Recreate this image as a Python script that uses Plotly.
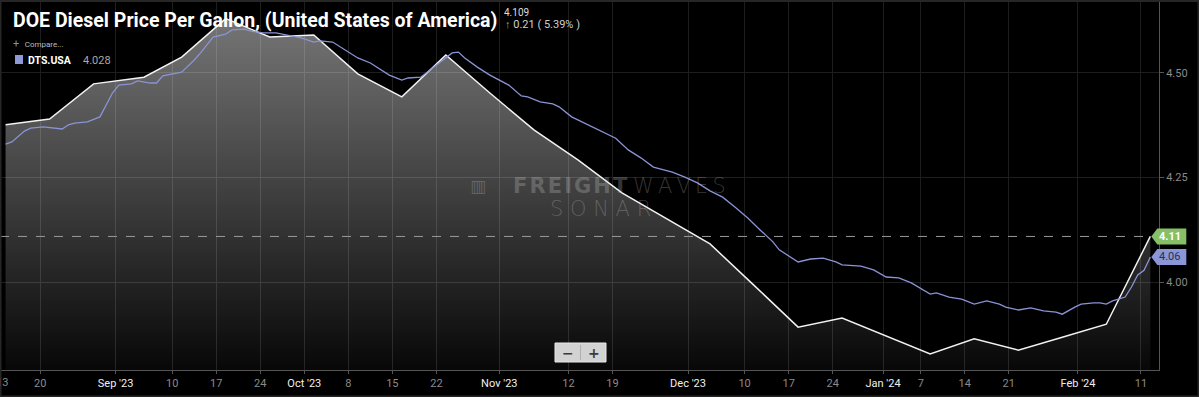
import plotly.graph_objects as go
import pandas as pd

# ---------------- data ----------------
doe_dates = ["2023-08-14", "2023-08-21", "2023-08-28", "2023-09-05", "2023-09-11", "2023-09-18",
             "2023-09-25", "2023-10-02", "2023-10-09", "2023-10-16", "2023-10-23", "2023-10-30",
             "2023-11-06", "2023-11-13", "2023-11-20", "2023-11-27", "2023-12-04", "2023-12-11",
             "2023-12-18", "2023-12-25", "2024-01-01", "2024-01-08", "2024-01-15", "2024-01-22",
             "2024-01-29", "2024-02-05", "2024-02-12"]
doe_values = [4.376, 4.390, 4.474, 4.490, 4.538, 4.630, 4.586, 4.591, 4.498, 4.443, 4.543, 4.452,
              4.364, 4.292, 4.213, 4.153, 4.091, 3.992, 3.892, 3.914, 3.871, 3.828, 3.864, 3.837,
              3.868, 3.899, 4.109]

dts_dates = ["2023-08-14", "2023-08-15", "2023-08-17", "2023-08-18", "2023-08-20", "2023-08-22",
             "2023-08-23", "2023-08-24", "2023-08-25", "2023-08-27", "2023-08-29", "2023-08-31",
             "2023-09-01", "2023-09-03", "2023-09-04", "2023-09-06", "2023-09-07", "2023-09-08",
             "2023-09-10", "2023-09-11", "2023-09-13", "2023-09-14", "2023-09-16", "2023-09-18",
             "2023-09-19", "2023-09-21", "2023-09-22", "2023-09-24", "2023-09-26", "2023-09-27",
             "2023-09-29", "2023-09-30", "2023-10-02", "2023-10-03", "2023-10-05", "2023-10-07",
             "2023-10-09", "2023-10-11", "2023-10-14", "2023-10-16", "2023-10-17", "2023-10-19",
             "2023-10-21", "2023-10-23", "2023-10-24", "2023-10-25", "2023-10-26", "2023-10-28",
             "2023-10-30", "2023-11-02", "2023-11-04", "2023-11-05", "2023-11-07", "2023-11-09",
             "2023-11-10", "2023-11-12", "2023-11-14", "2023-11-15", "2023-11-19", "2023-11-21",
             "2023-11-23", "2023-11-25", "2023-11-27", "2023-11-28", "2023-11-30", "2023-12-02",
             "2023-12-04", "2023-12-06", "2023-12-08", "2023-12-10", "2023-12-12", "2023-12-14",
             "2023-12-15", "2023-12-18", "2023-12-20", "2023-12-22", "2023-12-24", "2023-12-25",
             "2023-12-28", "2023-12-30", "2024-01-01", "2024-01-03", "2024-01-05", "2024-01-08",
             "2024-01-09", "2024-01-11", "2024-01-13", "2024-01-15", "2024-01-17", "2024-01-19",
             "2024-01-20", "2024-01-22", "2024-01-24", "2024-01-26", "2024-01-28", "2024-01-29",
             "2024-01-31", "2024-02-01", "2024-02-03", "2024-02-04", "2024-02-05", "2024-02-06",
             "2024-02-08", "2024-02-09", "2024-02-10", "2024-02-11", "2024-02-12"]
dts_values = [4.330, 4.335, 4.361, 4.368, 4.371, 4.368,
              4.366, 4.376, 4.380, 4.383, 4.395, 4.452,
              4.471, 4.474, 4.481, 4.476, 4.476, 4.493,
              4.500, 4.502, 4.531, 4.548, 4.586, 4.593,
              4.603, 4.605, 4.600, 4.596, 4.596, 4.593,
              4.586, 4.584, 4.574, 4.577, 4.574, 4.555,
              4.536, 4.524, 4.495, 4.483, 4.488, 4.490,
              4.514, 4.536, 4.548, 4.550, 4.536, 4.514,
              4.495, 4.471, 4.445, 4.443, 4.431, 4.426,
              4.419, 4.395, 4.380, 4.373, 4.344, 4.316,
              4.297, 4.275, 4.266, 4.263, 4.251, 4.237,
              4.218, 4.203, 4.179, 4.153, 4.124, 4.096,
              4.077, 4.048, 4.055, 4.057, 4.048, 4.041,
              4.038, 4.029, 4.012, 4.010, 3.998, 3.971,
              3.974, 3.964, 3.959, 3.947, 3.955, 3.947,
              3.940, 3.933, 3.938, 3.931, 3.928, 3.923,
              3.940, 3.947, 3.950, 3.950, 3.947, 3.955,
              3.964, 3.988, 4.017, 4.028, 4.060]

tick_dates = ["2023-08-20", "2023-09-01", "2023-09-10", "2023-09-17", "2023-09-24", "2023-10-01",
              "2023-10-08", "2023-10-15", "2023-10-22", "2023-11-01", "2023-11-12", "2023-11-19",
              "2023-12-01", "2023-12-10", "2023-12-17", "2023-12-24", "2024-01-01", "2024-01-07",
              "2024-01-14", "2024-01-21", "2024-02-01", "2024-02-11"]
tick_labels = ["20", "Sep '23", "10", "17", "24", "Oct '23", "8", "15", "22", "Nov '23", "12", "19",
               "Dec '23", "10", "17", "24", "Jan '24", "7", "14", "21", "Feb '24", "11"]
first_tick_date = "2023-08-13"
first_tick_label = "13"
y_ticks = [4.00, 4.25, 4.50]

title_text = "DOE Diesel Price Per Gallon, (United States of America)"
last_value_text = "4.109"
change_text = "0.21 ( 5.39% )"
series_name = "DTS.USA"
series_value_text = "4.028"

# ---------------- layout helpers ----------------
W, H = 1199, 397
ML, MR, MT, MB = 0, 40, 0, 27
PW, PH = W - ML - MR, H - MT - MB
x_range = [pd.Timestamp("2023-08-13 14:50"), pd.Timestamp("2024-02-13 21:05")]
y_range = [3.7895, 4.6746]


def pxx(x):  # pixel x -> paper
    return (x - ML) / PW


def pxy(y):  # pixel y -> paper
    return (H - MB - y) / PH


def date_frac(d):
    d = pd.Timestamp(d)
    return (d - x_range[0]) / (x_range[1] - x_range[0])


def val_frac(v):
    return (v - y_range[0]) / (y_range[1] - y_range[0])


half_day = pd.Timedelta(hours=12)
doe_x = pd.to_datetime(doe_dates) + half_day
dts_x = pd.to_datetime(dts_dates) + half_day

WHITE = "#f2f2f2"
PURPLE = "#8a93d6"
GREEN = "#86bf66"
GRID = "#1e1e1e"
AXIS = "#555555"

fig = go.Figure()

fig.add_trace(go.Scatter(
    x=doe_x, y=doe_values, mode="lines",
    line=dict(color=WHITE, width=1.5),
    fill="tozeroy",
    fillgradient=dict(type="vertical",
                      colorscale=[[0, "rgba(255,255,255,0.03)"], [1, "rgba(255,255,255,0.46)"]],
                      start=y_range[0], stop=4.63),
    hoverinfo="skip",
))
fig.add_trace(go.Scatter(
    x=dts_x, y=dts_values, mode="lines",
    line=dict(color=PURPLE, width=1.3),
    hoverinfo="skip",
))

ticktext = []
for t in tick_labels:
    if "'" in t:
        ticktext.append('<span style="color:#f0f0f0">%s</span>' % t)
    else:
        ticktext.append(t)

fig.update_layout(
    width=W, height=H,
    margin=dict(l=ML, r=MR, t=MT, b=MB),
    paper_bgcolor="#000000", plot_bgcolor="#000000",
    showlegend=False,
    font=dict(family="Roboto", color="#8a8a8a", size=11),
    xaxis=dict(type="date", range=x_range, tickvals=tick_dates, ticktext=ticktext,
               showgrid=True, gridcolor=GRID, gridwidth=1,
               showline=True, linecolor=AXIS, linewidth=1,
               ticks="outside", ticklen=3, tickcolor=AXIS,
               tickfont=dict(size=11, color="#8a8a8a"), zeroline=False, fixedrange=True),
    yaxis=dict(range=y_range, side="right", tickvals=y_ticks, tickformat=".2f",
               showgrid=True, gridcolor=GRID, gridwidth=1,
               showline=True, linecolor=AXIS, linewidth=1,
               ticks="outside", ticklen=4, tickcolor=AXIS,
               tickfont=dict(size=11, color="#8a8a8a"), zeroline=False, fixedrange=True),
)

shapes = []
annotations = []

# dashed line at last DOE value
shapes.append(dict(type="line", xref="x", yref="y", x0=x_range[0], x1=doe_x[-1],
                   y0=doe_values[-1], y1=doe_values[-1],
                   line=dict(color="#9a9a9a", width=1, dash="dash"), layer="above"))


# end-value tags
def add_tag(xd, v, text, bg, fg, width):
    shapes.append(dict(type="path", xref="paper", yref="paper",
                       xsizemode="pixel", ysizemode="pixel",
                       xanchor=date_frac(xd), yanchor=val_frac(v),
                       path="M 1,0 L 7,8 L %d,8 L %d,-8 L 7,-8 Z" % (width, width),
                       fillcolor=bg, line=dict(width=0), layer="above"))
    annotations.append(dict(xref="paper", yref="paper", x=date_frac(xd), y=val_frac(v),
                            xanchor="left", yanchor="middle", xshift=7,
                            text=text, showarrow=False,
                            font=dict(family="Roboto", size=11, color=fg)))


add_tag(doe_x[-1], doe_values[-1], "<b>%.2f</b>" % doe_values[-1], GREEN, "#ffffff", 36)
add_tag(dts_x[-1], dts_values[-1], "%.2f" % dts_values[-1], "#8b96d6", "#2a2f4f", 36)

# first tick label, slightly cut by the left edge as in the reference
annotations.append(dict(xref="paper", yref="paper", x=date_frac(first_tick_date), y=0,
                        xanchor="center", yanchor="top", yshift=-4, xshift=6, showarrow=False,
                        text=first_tick_label, font=dict(family="Roboto", size=11, color="#8a8a8a")))

# title + header texts
annotations += [
    dict(xref="paper", yref="paper", x=pxx(11), y=pxy(21), xanchor="left", yanchor="middle",
         text="<b>%s</b>" % title_text, showarrow=False,
         font=dict(family="Roboto", size=19.5, color="#ffffff")),
    dict(xref="paper", yref="paper", x=pxx(502), y=pxy(12), xanchor="left", yanchor="middle",
         text=last_value_text, showarrow=False, font=dict(family="Roboto", size=10, color="#dddddd")),
    dict(xref="paper", yref="paper", x=pxx(503), y=pxy(24), xanchor="left", yanchor="middle",
         text='<span style="color:#5cc16a"><b>↑</b></span> ' + change_text, showarrow=False,
         font=dict(family="Roboto", size=11, color="#cfcfcf")),
    dict(xref="paper", yref="paper", x=pxx(11), y=pxy(43), xanchor="left", yanchor="middle",
         text='<span style="color:#6f8fe0">+</span>  <span style="font-size:8px">Compare...</span>',
         showarrow=False, font=dict(family="Roboto", size=11, color="#bbbbbb")),
    dict(xref="paper", yref="paper", x=pxx(26), y=pxy(60), xanchor="left", yanchor="middle",
         text="<b>%s</b>" % series_name, showarrow=False,
         font=dict(family="Roboto", size=10.5, color="#ffffff")),
    dict(xref="paper", yref="paper", x=pxx(81), y=pxy(60), xanchor="left", yanchor="middle",
         text=series_value_text, showarrow=False,
         font=dict(family="Roboto", size=11, color="#a8a8a8")),
]
shapes.append(dict(type="rect", xref="paper", yref="paper", x0=pxx(15), x1=pxx(23),
                   y0=pxy(64), y1=pxy(55), fillcolor="#8f99d6", line=dict(width=0), layer="above"))

# watermark
wm = "rgba(210,210,210,0.26)"
annotations += [
    dict(xref="paper", yref="paper", x=pxx(630), y=pxy(186), xanchor="right", yanchor="middle",
         text="F\u200aR\u200aE\u200aI\u200aG\u200aH\u200aT", showarrow=False,
         font=dict(family="DejaVu Sans", size=21, color=wm, weight=900)),
    dict(xref="paper", yref="paper", x=pxx(631), y=pxy(186), xanchor="left", yanchor="middle",
         text="W\u2009A\u2009V\u2009E\u2009S", showarrow=False,
         font=dict(family="DejaVu Sans", size=21, color=wm, weight=200)),
    dict(xref="paper", yref="paper", x=pxx(600), y=pxy(209), xanchor="center", yanchor="middle",
         text="S O N A R", showarrow=False,
         font=dict(family="DejaVu Sans", size=21, color=wm, weight=200)),
    dict(xref="paper", yref="paper", x=pxx(478), y=pxy(186), xanchor="center", yanchor="middle",
         text="▥", showarrow=False, font=dict(family="DejaVu Sans", size=17, color=wm)),
]

# zoom control
shapes += [
    dict(type="rect", xref="paper", yref="paper", x0=pxx(555), x1=pxx(606), y0=pxy(362), y1=pxy(343),
         fillcolor="#d2d2d2", line=dict(color="#e8e8e8", width=1), layer="above"),
    dict(type="line", xref="paper", yref="paper", x0=pxx(580.5), x1=pxx(580.5), y0=pxy(360), y1=pxy(345),
         line=dict(color="#b0b0b0", width=1), layer="above"),
]
annotations += [
    dict(xref="paper", yref="paper", x=pxx(567.5), y=pxy(352.5), xanchor="center", yanchor="middle",
         text="<b>\u2212</b>", showarrow=False, font=dict(family="DejaVu Sans", size=14, color="#3a3a3a")),
    dict(xref="paper", yref="paper", x=pxx(593.5), y=pxy(352.5), xanchor="center", yanchor="middle",
         text="<b>+</b>", showarrow=False, font=dict(family="DejaVu Sans", size=14, color="#3a3a3a")),
]

# frame
shapes.append(dict(type="rect", xref="paper", yref="paper", x0=pxx(0.5), x1=pxx(W - 0.5),
                   y0=pxy(H - 0.5), y1=pxy(1), line=dict(color="#262626", width=2),
                   fillcolor="rgba(0,0,0,0)", layer="above"))

fig.update_layout(shapes=shapes, annotations=annotations)
fig.write_html("out.html", config={"displayModeBar": False},
               post_script="document.body.style.margin='0px';document.body.style.background='#000';")
